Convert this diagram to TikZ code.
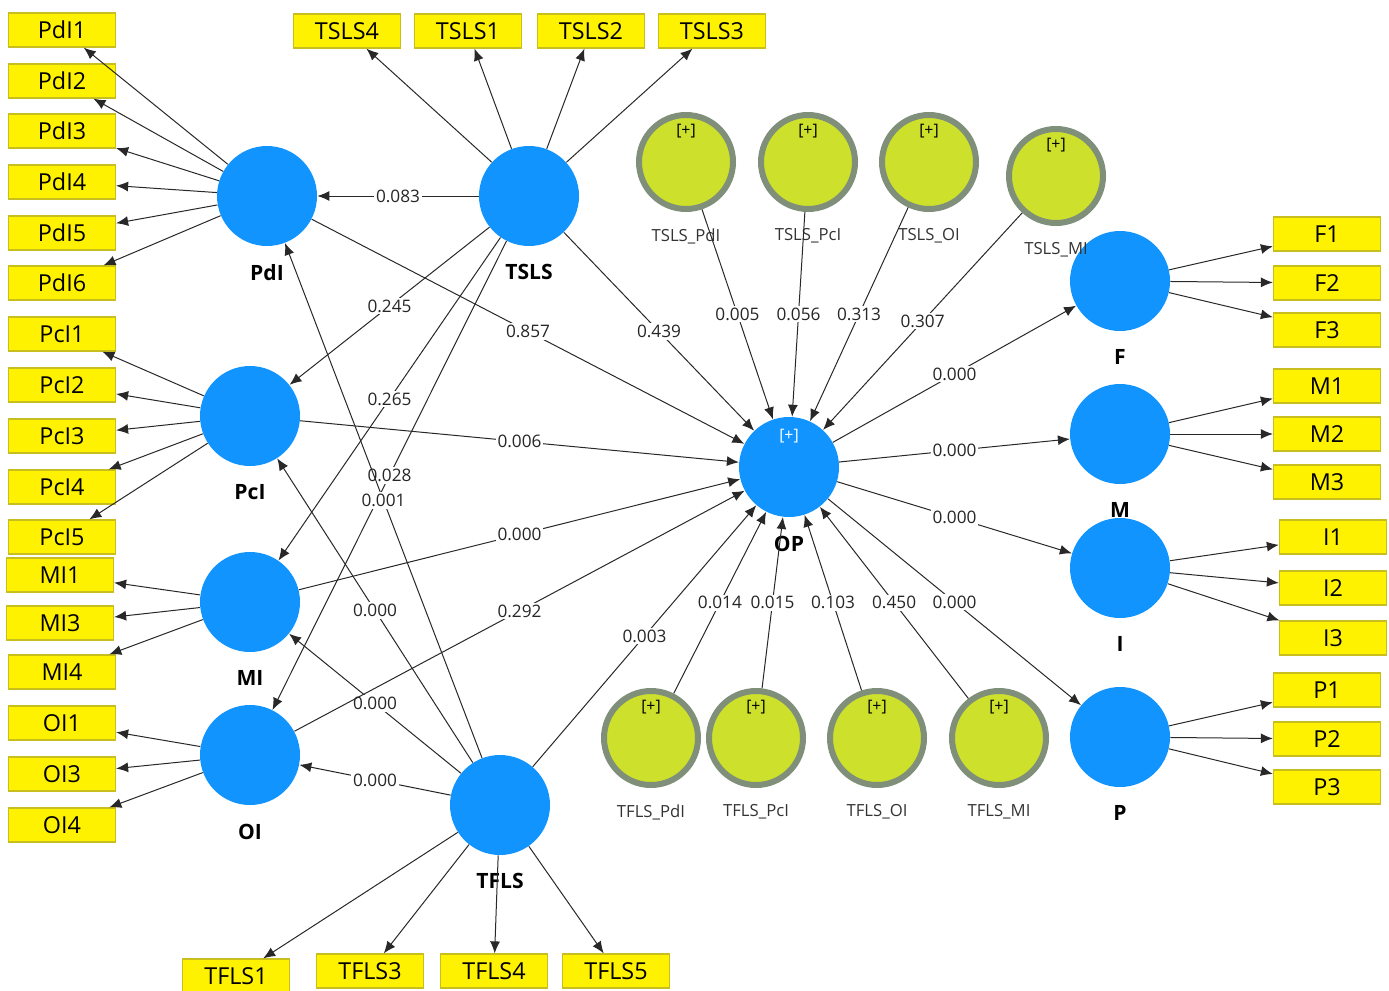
\documentclass[tikz,border=0pt]{standalone}
\usepackage{fontspec}
\setmainfont{Open Sans}
\usetikzlibrary{arrows.meta}
\definecolor{lvblue}{RGB}{18,148,255}
\definecolor{modgreen}{RGB}{204,224,44}
\definecolor{modgray}{RGB}{128,143,122}
\definecolor{indborder}{RGB}{200,190,30}
\definecolor{linegray}{RGB}{40,40,40}

\begin{document}
\begin{tikzpicture}[x=0.2mm, y=-0.2mm,
  ind/.style={rectangle, fill=yellow, draw=indborder, line width=0.25mm, minimum width=21.4mm, minimum height=6.8mm, inner sep=0pt, font=\fontsize{13.3}{15}\selectfont},
  lv/.style={circle, fill=lvblue, minimum size=20mm, inner sep=0pt},
  lvname/.style={label={[font=\fontsize{12}{14}\selectfont\bfseries, inner sep=0pt, label distance=3.6mm]below:#1}},
  moder/.style={circle, fill=modgreen, draw=modgray, line width=1.2mm, minimum size=18.8mm, inner sep=0pt,
    label={[font=\fontsize{9}{10}\selectfont, anchor=center, label distance=-3.8mm]90:{[+]}}},
  modname/.style={label={[font=\fontsize{9.5}{11}\selectfont, text=black!80, inner sep=0pt, label distance=3.3mm]below:#1}},
  arr/.style={draw=linegray, line width=0.2mm, -{Latex[length=2.4mm, width=2mm]}},
  coef/.style={fill=white, inner sep=1pt, font=\fontsize{9.8}{11}\selectfont, text=black!85}
  ]
\useasboundingbox (0,0) rectangle (1389,990);

% latent variables
\node[lv, lvname=PdI] (pdi) at (267,196) {};
\node[lv, lvname=TSLS] (tsls) at (529,196) {};
\node[lv, lvname=PcI] (pci) at (250,416) {};
\node[lv, lvname=MI] (mi) at (250,602) {};
\node[lv, lvname=OI] (oi) at (250,755) {};
\node[lv, lvname=TFLS] (tfls) at (500,805) {};
\node[lv, lvname=OP, label={[font=\fontsize{9}{10}\selectfont, text=white, anchor=center, label distance=-3.8mm]90:{[+]}}] (op) at (789,467) {};
\node[lv, lvname=F] (f) at (1120,281) {};
\node[lv, lvname=M] (m) at (1120,434) {};
\node[lv, lvname=I] (i) at (1120,568) {};
\node[lv, lvname=P] (p) at (1120,737) {};

% moderating effects
\node[moder, modname=TSLS\_PdI] (tslspdi) at (686,162) {};
\node[moder, modname=TSLS\_PcI] (tslspci) at (808,162) {};
\node[moder, modname=TSLS\_OI] (tslsoi) at (929,162) {};
\node[moder, modname=TSLS\_MI] (tslsmi) at (1056,176) {};
\node[moder, modname=TFLS\_PdI] (tflspdi) at (651,738) {};
\node[moder, modname=TFLS\_PcI] (tflspci) at (756,738) {};
\node[moder, modname=TFLS\_OI] (tflsoi) at (877,738) {};
\node[moder, modname=TFLS\_MI] (tflsmi) at (999,738) {};

% indicators, left
\node[ind] (pdi1) at (62,30) {PdI1};
\node[ind] (pdi2) at (62,81) {PdI2};
\node[ind] (pdi3) at (62,131) {PdI3};
\node[ind] (pdi4) at (62,182) {PdI4};
\node[ind] (pdi5) at (62,233) {PdI5};
\node[ind] (pdi6) at (62,283) {PdI6};
\node[ind] (pci1) at (62,334) {PcI1};
\node[ind] (pci2) at (62,385) {PcI2};
\node[ind] (pci3) at (62,436) {PcI3};
\node[ind] (pci4) at (62,487) {PcI4};
\node[ind] (pci5) at (62,537) {PcI5};
\node[ind] (mi1) at (60,575) {MI1};
\node[ind] (mi3) at (60,623) {MI3};
\node[ind] (mi4) at (62,672) {MI4};
\node[ind] (oi1) at (62,723) {OI1};
\node[ind] (oi3) at (62,774) {OI3};
\node[ind] (oi4) at (62,825) {OI4};

% indicators, top and bottom
\node[ind] (tsls4) at (347,31) {TSLS4};
\node[ind] (tsls1) at (468,31) {TSLS1};
\node[ind] (tsls2) at (591,31) {TSLS2};
\node[ind] (tsls3) at (712,31) {TSLS3};
\node[ind] (tfls1) at (236,976) {TFLS1};
\node[ind] (tfls3) at (370,971) {TFLS3};
\node[ind] (tfls4) at (494,971) {TFLS4};
\node[ind] (tfls5) at (616,971) {TFLS5};

% indicators, right
\node[ind] (f1) at (1327,234) {F1};
\node[ind] (f2) at (1327,283) {F2};
\node[ind] (f3) at (1327,330) {F3};
\node[ind] (m1) at (1327,386) {M1};
\node[ind] (m2) at (1327,434) {M2};
\node[ind] (m3) at (1327,482) {M3};
\node[ind] (i1) at (1333,537) {I1};
\node[ind] (i2) at (1333,588) {I2};
\node[ind] (i3) at (1333,638) {I3};
\node[ind] (p1) at (1327,690) {P1};
\node[ind] (p2) at (1327,739) {P2};
\node[ind] (p3) at (1327,787) {P3};

% outer loadings
\draw[arr] (pdi) -- (pdi1);
\draw[arr] (pdi) -- (pdi2);
\draw[arr] (pdi) -- (pdi3);
\draw[arr] (pdi) -- (pdi4);
\draw[arr] (pdi) -- (pdi5);
\draw[arr] (pdi) -- (pdi6);
\draw[arr] (pci) -- (pci1);
\draw[arr] (pci) -- (pci2);
\draw[arr] (pci) -- (pci3);
\draw[arr] (pci) -- (pci4);
\draw[arr] (pci) -- (pci5);
\draw[arr] (mi) -- (mi1);
\draw[arr] (mi) -- (mi3);
\draw[arr] (mi) -- (mi4);
\draw[arr] (oi) -- (oi1);
\draw[arr] (oi) -- (oi3);
\draw[arr] (oi) -- (oi4);
\draw[arr] (tsls) -- (tsls1);
\draw[arr] (tsls) -- (tsls2);
\draw[arr] (tsls) -- (tsls3);
\draw[arr] (tsls) -- (tsls4);
\draw[arr] (tfls) -- (tfls1);
\draw[arr] (tfls) -- (tfls3);
\draw[arr] (tfls) -- (tfls4);
\draw[arr] (tfls) -- (tfls5);
\draw[arr] (f) -- (f1);
\draw[arr] (f) -- (f2);
\draw[arr] (f) -- (f3);
\draw[arr] (m) -- (m1);
\draw[arr] (m) -- (m2);
\draw[arr] (m) -- (m3);
\draw[arr] (i) -- (i1);
\draw[arr] (i) -- (i2);
\draw[arr] (i) -- (i3);
\draw[arr] (p) -- (p1);
\draw[arr] (p) -- (p2);
\draw[arr] (p) -- (p3);

% inner model
\draw[arr] (tsls) -- node[coef] {0.083} (pdi);
\draw[arr] (tsls) -- node[coef] {0.245} (pci);
\draw[arr] (tsls) -- node[coef] {0.265} (mi);
\draw[arr] (tsls) -- node[coef] {0.028} (oi);
\draw[arr] (tfls) -- node[coef] {0.001} (pdi);
\draw[arr] (tfls) -- node[coef] {0.000} (pci);
\draw[arr] (tfls) -- node[coef] {0.000} (mi);
\draw[arr] (tfls) -- node[coef] {0.000} (oi);
\draw[arr] (pdi) -- node[coef] {0.857} (op);
\draw[arr] (tsls) -- node[coef] {0.439} (op);
\draw[arr] (pci) -- node[coef] {0.006} (op);
\draw[arr] (mi) -- node[coef] {0.000} (op);
\draw[arr] (oi) -- node[coef] {0.292} (op);
\draw[arr] (tfls) -- node[coef] {0.003} (op);
\draw[arr] (tslspdi) -- node[coef] {0.005} (op);
\draw[arr] (tslspci) -- node[coef] {0.056} (op);
\draw[arr] (tslsoi) -- node[coef] {0.313} (op);
\draw[arr] (tslsmi) -- node[coef] {0.307} (op);
\draw[arr] (tflspdi) -- node[coef] {0.014} (op);
\draw[arr] (tflspci) -- node[coef] {0.015} (op);
\draw[arr] (tflsoi) -- node[coef] {0.103} (op);
\draw[arr] (tflsmi) -- node[coef] {0.450} (op);
\draw[arr] (op) -- node[coef] {0.000} (f);
\draw[arr] (op) -- node[coef] {0.000} (m);
\draw[arr] (op) -- node[coef] {0.000} (i);
\draw[arr] (op) -- node[coef] {0.000} (p);
\end{tikzpicture}
\end{document}
